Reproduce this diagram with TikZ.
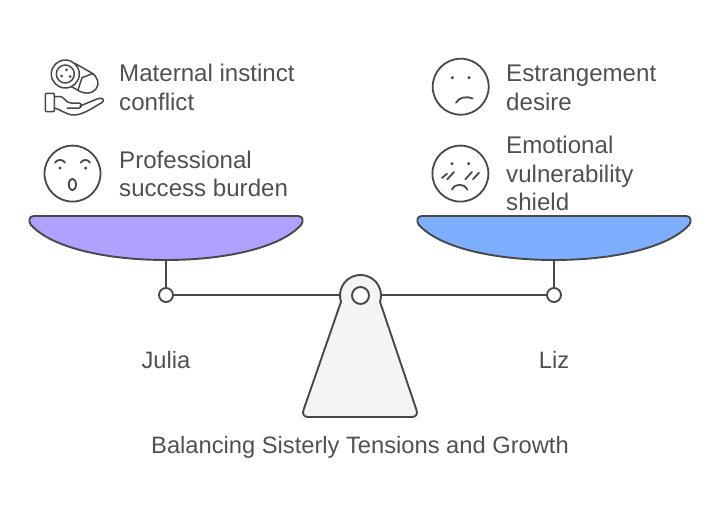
\documentclass[tikz,border=0pt]{standalone}
\usepackage{fontspec}
\usepackage{xcolor}
\setmainfont{Liberation Sans}
\definecolor{inkgray}{HTML}{484848}
\definecolor{textgray}{HTML}{505050}
\definecolor{panpurple}{HTML}{B0A0FF}
\definecolor{panblue}{HTML}{7DAEFF}
\definecolor{basegray}{HTML}{F4F4F4}

\begin{document}
\begin{tikzpicture}[x=1pt, y=-1pt,
    line/.style={draw=inkgray, line width=1.9pt, line join=round},
    icon/.style={draw=inkgray, line width=1.8pt, line cap=round, line join=round},
    thinicon/.style={icon, line width=1.5pt},
    face/.style={icon, circle, minimum size=56pt, inner sep=0pt},
    joint/.style={line, circle, fill=white, minimum size=14pt, inner sep=0pt},
    itemtext/.style={text=textgray, anchor=west, align=left, inner sep=0pt,
        font=\fontsize{24.1}{28.6}\selectfont},
    label/.style={text=textgray, inner sep=0pt, font=\fontsize{23.7}{28}\selectfont}]
    \useasboundingbox (0,0) rectangle (720,519);

    % Beam and hangers
    \node[joint] (jointL) at (166,295) {};
    \node[joint] (jointR) at (554,295) {};
    \coordinate (panL) at (166,260);
    \coordinate (panR) at (554,260);
    \coordinate (pivotC) at (360.5,295.5);
    \coordinate (beamL) at (340,295);
    \coordinate (beamR) at (381,295);
    \draw[line] (panL) -- (jointL);
    \draw[line] (panR) -- (jointR);
    \draw[line] (jointL) -- (beamL);
    \draw[line] (beamR) -- (jointR);

    % Pans
    \draw[line, fill=panpurple] (34,216) -- (298,216)
      .. controls (303,216) and (304,221) .. (301,225)
      .. controls (280,248) and (225,260) .. (panL)
      .. controls (107,260) and (52,248) .. (31,225)
      .. controls (28,221) and (29,216) .. (34,216) -- cycle;
    \draw[line, fill=panblue] (422,216) -- (686,216)
      .. controls (691,216) and (692,221) .. (689,225)
      .. controls (668,248) and (613,260) .. (panR)
      .. controls (495,260) and (440,248) .. (419,225)
      .. controls (416,221) and (417,216) .. (422,216) -- cycle;

    % Fulcrum
    \draw[line, fill=basegray] (341,301.8) arc[start angle=198, end angle=-18, radius=20.5pt]
      -- (416.5,410) .. controls (418,414) and (416,417) .. (412,417)
      -- (308,417) .. controls (304,417) and (302,414) .. (303.5,410) -- cycle;
    \node[joint, minimum size=17pt] (pivot) at (pivotC) {};

    % Baby on a hand
    \node[thinicon, circle, minimum size=28pt, inner sep=0pt] (babyhead) at (65.3,74) {};
    \node[thinicon, circle, minimum size=18pt, inner sep=0pt] (babyface) at (65.3,74) {};
    \fill[inkgray] (66.5,69.8) circle (1.5pt) (61.6,76) circle (1.5pt) (70,76.5) circle (1.5pt);
    \draw[thinicon] (75.3,63.6) -- (91,72.5) .. controls (98,76.5) and (100,84) .. (96,89)
      .. controls (92,94) and (85,94) .. (80,91.5) -- (71.5,86.6);
    \draw[thinicon] (93,73.5) -- (82,77.7) -- (78,90);
    \draw[thinicon, rounded corners=1pt] (45.3,93.3) rectangle (54.3,111.7);
    \draw[thinicon] (54.3,96.7) -- (61,96.7) .. controls (64,97) and (66,103) .. (71,103)
      -- (79,103) .. controls (82,103) and (82,108) .. (79,108) -- (67,108);
    \draw[thinicon] (80,106) -- (97,99) .. controls (103,96.5) and (105,100.5) .. (102,102.5)
      .. controls (94,107) and (83,115) .. (74,115) .. controls (66,115) and (60,109) .. (54.3,108);

    % Surprised face
    \node[face] (faceA) at (72.5,173.6) {};
    \draw[icon] (55,162.7) .. controls (57,159) and (63,159) .. (65,162.7);
    \draw[icon] (80.7,162.7) .. controls (82.7,159) and (88,159) .. (90,162.7);
    \fill[inkgray] (60,168) circle (1.7pt) (85.7,168) circle (1.7pt);
    \draw[icon] (72.4,184.5) ellipse (3.6pt and 5.8pt);

    % Sad face
    \node[face] (faceB) at (460.7,86.7) {};
    \fill[inkgray] (452.3,77.7) circle (1.7pt) (469,77.7) circle (1.7pt);
    \draw[icon] (456,102.7) .. controls (459,97) and (467,96) .. (472.7,98.5);

    % Crying face
    \node[face] (faceC) at (460.4,173.6) {};
    \fill[inkgray] (452,163.7) circle (1.7pt) (468.7,163.7) circle (1.7pt);
    \draw[icon] (442,178) -- (447,173.7) (447.3,179.3) -- (454,172);
    \draw[icon] (465.3,179.3) -- (472,172) (473,179.3) -- (479,172.7);
    \draw[icon] (452,189.7) .. controls (455,183) and (464,183) .. (467.3,189.7);

    % Texts
    \node[itemtext] (textA) at (119,87.4) {Maternal instinct\\conflict};
    \node[itemtext] (textB) at (119,173.8) {Professional\\success burden};
    \node[itemtext] (textC) at (506,87.8) {Estrangement\\desire};
    \node[itemtext] (textD) at (506,173.5) {Emotional\\vulnerability\\shield};
    \node[label] (julia) at (166,360) {Julia};
    \node[label] (liz) at (554,360) {Liz};
    \node[label] (title) at (360,447.5) {Balancing Sisterly Tensions and Growth};
\end{tikzpicture}
\end{document}
